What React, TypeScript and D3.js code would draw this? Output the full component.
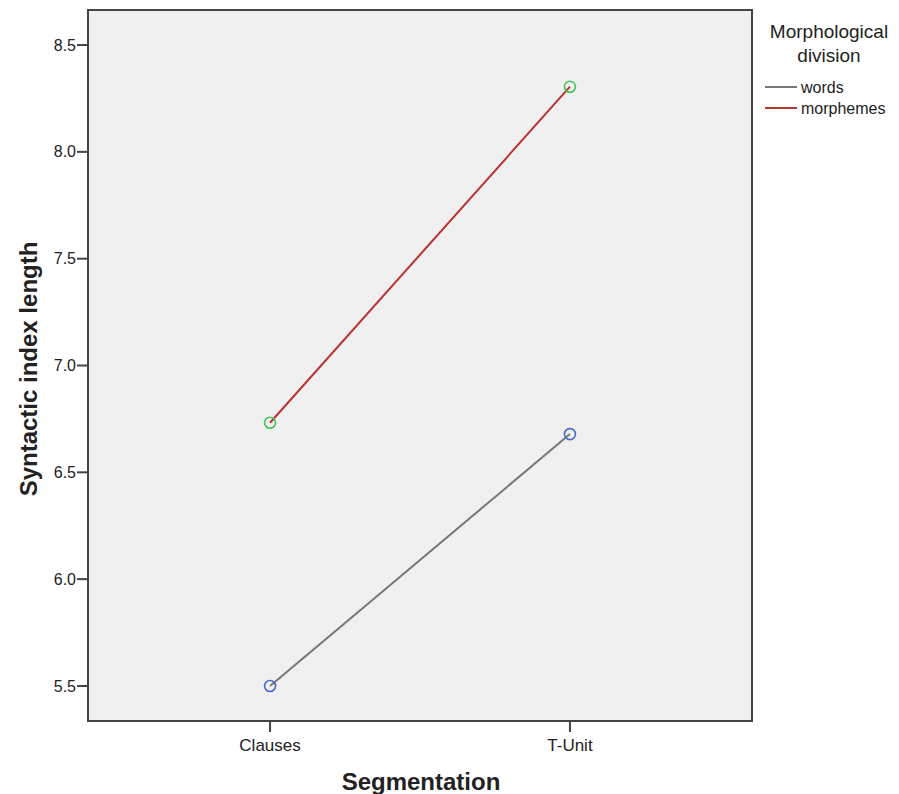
import React, { useEffect, useRef } from "react";
import * as d3 from "d3";

const categories = ["Clauses", "T-Unit"];
const wordsValues = [5.5, 6.679];
const morphemesValues = [6.732, 8.305];
const yTicks = [5.5, 6.0, 6.5, 7.0, 7.5, 8.0, 8.5];
const seriesNames = ["words", "morphemes"];

export default function App() {
  const ref = useRef<SVGSVGElement>(null);
  useEffect(() => {
    const svg = d3.select(ref.current);
    svg.selectAll("*").remove();
    const left = 88, right = 752, top = 10, bottom = 721;
    const x = d3.scalePoint().domain(categories).range([left, right]).padding(0.607);
    const y = d3.scaleLinear().domain([5.336, 8.664]).range([bottom, top]);
    const font = "'Liberation Sans', Arial, sans-serif";

    svg.append("rect").attr("x", left).attr("y", top).attr("width", right - left).attr("height", bottom - top)
      .attr("fill", "#f0f0f0").attr("stroke", "#444").attr("stroke-width", 2);

    // y ticks
    const yg = svg.append("g");
    yTicks.forEach((t) => {
      yg.append("line").attr("x1", left - 11).attr("x2", left).attr("y1", y(t)).attr("y2", y(t)).attr("stroke", "#444").attr("stroke-width", 2);
      yg.append("text").attr("x", left - 12).attr("y", y(t)).attr("dy", "0.35em").attr("text-anchor", "end")
        .attr("font-family", font).attr("font-size", 16).attr("fill", "#222").text(t.toFixed(1));
    });
    // x ticks
    categories.forEach((c) => {
      svg.append("line").attr("x1", x(c)!).attr("x2", x(c)!).attr("y1", bottom).attr("y2", bottom + 11).attr("stroke", "#444").attr("stroke-width", 2);
      svg.append("text").attr("x", x(c)!).attr("y", 751).attr("text-anchor", "middle")
        .attr("font-family", font).attr("font-size", 17).attr("fill", "#222").text(c);
    });

    const series = [
      { name: seriesNames[0], values: wordsValues, line: "#777777", marker: "#4a68c8" },
      { name: seriesNames[1], values: morphemesValues, line: "#b83232", marker: "#44c155" },
    ];
    const lineGen = d3.line<number>().x((_, i) => x(categories[i])!).y((v) => y(v));
    series.forEach((s) => {
      svg.append("path").attr("d", lineGen(s.values)!).attr("fill", "none").attr("stroke", s.line).attr("stroke-width", 2);
    });
    series.forEach((s) => {
      s.values.forEach((v, i) => {
        svg.append("circle").attr("cx", x(categories[i])!).attr("cy", y(v)).attr("r", 5.5)
          .attr("fill", "none").attr("stroke", s.marker).attr("stroke-width", 1.6);
      });
    });

    // axis titles
    svg.append("text").attr("x", (left + right) / 2 + 1).attr("y", 790).attr("text-anchor", "middle")
      .attr("font-family", font).attr("font-weight", "bold").attr("font-size", 24).attr("fill", "#222").text("Segmentation");
    svg.append("text").attr("transform", `translate(37, 369) rotate(-90)`).attr("text-anchor", "middle")
      .attr("font-family", font).attr("font-weight", "bold").attr("font-size", 24).attr("fill", "#222").text("Syntactic index length");

    // legend
    const lx = 829;
    svg.append("text").attr("x", lx).attr("y", 38).attr("text-anchor", "middle").attr("font-family", font)
      .attr("font-size", 19).attr("fill", "#222").text("Morphological");
    svg.append("text").attr("x", lx).attr("y", 62).attr("text-anchor", "middle").attr("font-family", font)
      .attr("font-size", 19).attr("fill", "#222").text("division");
    series.forEach((s, i) => {
      const yy = 87 + i * 21;
      svg.append("line").attr("x1", 765).attr("x2", 797).attr("y1", yy).attr("y2", yy).attr("stroke", s.line).attr("stroke-width", 2);
      svg.append("text").attr("x", 801).attr("y", yy).attr("dy", "0.35em").attr("font-family", font)
        .attr("font-size", 16).attr("fill", "#222").text(s.name);
    });
  }, []);
  return (
    <svg ref={ref} width={899} height={794} style={{ position: "absolute", left: 0, top: 0, background: "#fff" }} />
  );
}
